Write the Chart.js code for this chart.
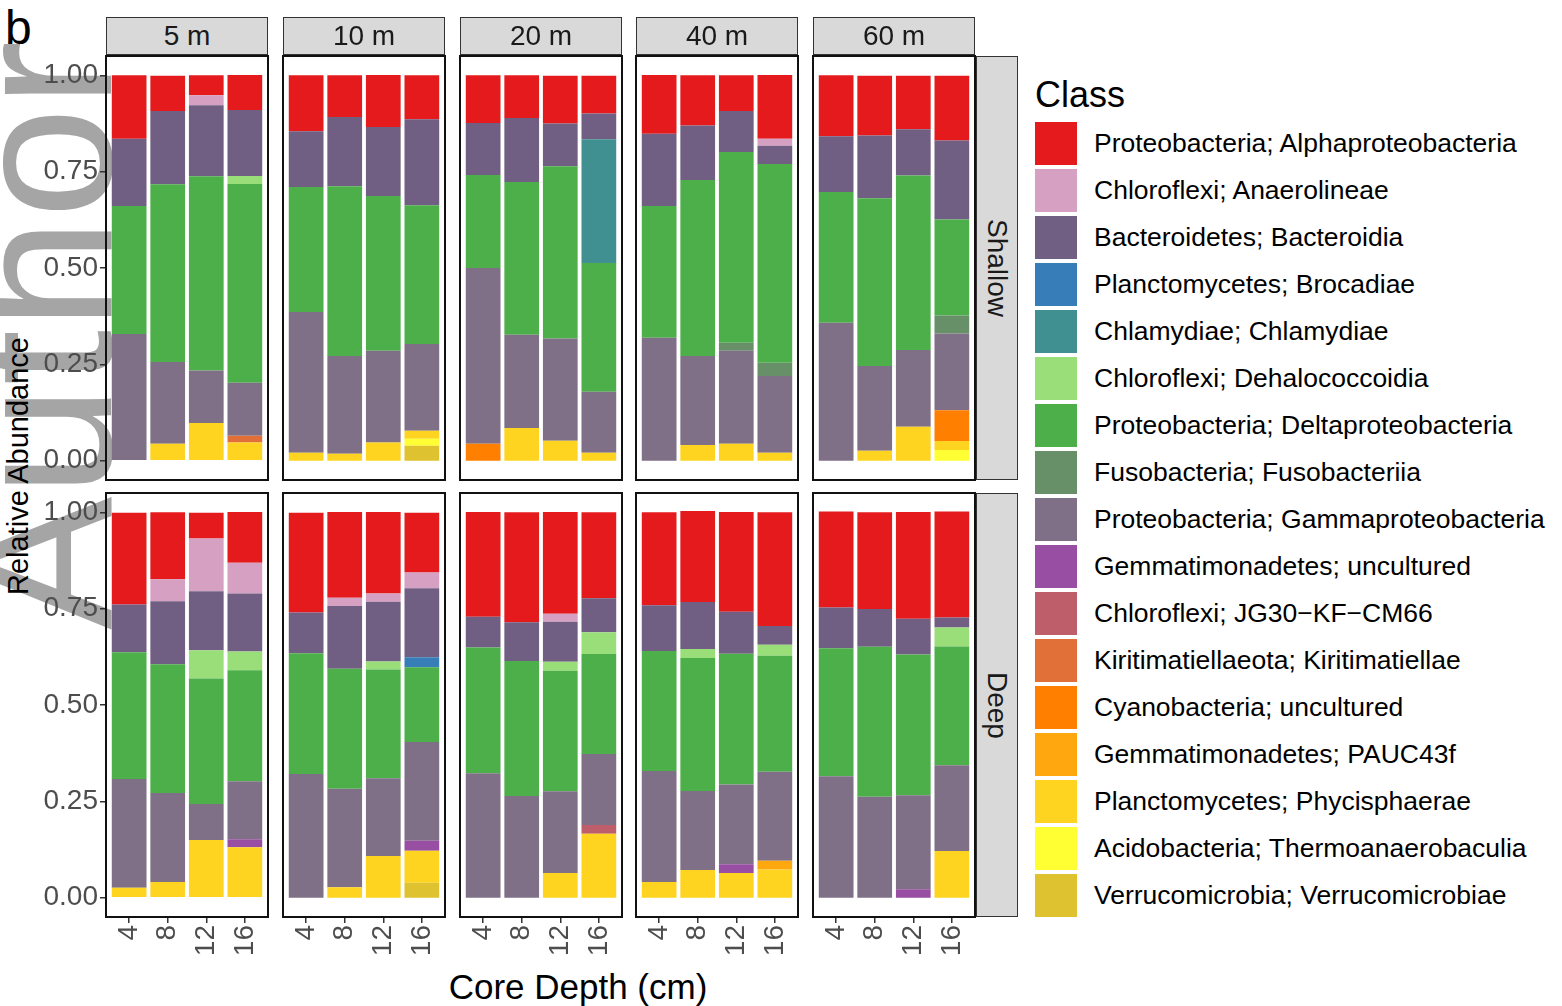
<!DOCTYPE html>
<html>
<head>
<meta charset="utf-8">
<script src="https://cdn.jsdelivr.net/npm/chart.js@4.4.0/dist/chart.umd.min.js"></script>
<style>
  body { margin: 0; background: #fff; }
  #page { position: relative; width: 1562px; height: 1006px; overflow: hidden; font-family: "Liberation Sans", Arial, sans-serif; }
  .abs { position: absolute; }
  .strip { position: absolute; background: #d9d9d9; border: 1.5px solid #333; box-sizing: border-box;
           display: flex; align-items: center; justify-content: center; font-size: 28px; color: #1a1a1a; }
  .vstrip { writing-mode: vertical-rl; }
  .key { position: absolute; left: 1035px; width: 42px; height: 43px; }
  .ltext { position: absolute; left: 1094px; font-size: 26.5px; color: #000; line-height: 30px; white-space: nowrap; }
  #wm { position: absolute; font-size: 200px; line-height: 1; color: rgba(130,130,130,0.72);
        transform-origin: 0 0; transform: rotate(-90deg); white-space: nowrap; }
</style>
</head>
<body>
<div id="page">
  <div id="wm" style="left:-58px; top:630px;">Author</div>
  <div class="abs" style="left:5px; top:0px; font-size:48px; color:#000;">b</div>
  <div class="abs" style="left:18px; top:466px; width:0; height:0;">
    <div style="position:absolute; transform: translate(-50%,-50%) rotate(-90deg); font-size:29px; white-space:nowrap; color:#000;">Relative Abundance</div>
  </div>
  <div class="abs" style="left:578px; top:987px; width:0; height:0;">
    <div style="position:absolute; transform: translate(-50%,-50%); font-size:35px; white-space:nowrap; color:#000;">Core Depth (cm)</div>
  </div>
  <div class="abs" style="left:1035px; top:74px; font-size:36px; color:#000;">Class</div>
</div>
<script>
// x categories and facets
const depths = ['4', '8', '12', '16'];
const stations = ['5 m', '10 m', '20 m', '40 m', '60 m'];
const zones = ['Shallow', 'Deep'];
const yTicks = [0, 0.25, 0.5, 0.75, 1];

const classNames = [
  'Proteobacteria; Alphaproteobacteria',
  'Chloroflexi; Anaerolineae',
  'Bacteroidetes; Bacteroidia',
  'Planctomycetes; Brocadiae',
  'Chlamydiae; Chlamydiae',
  'Chloroflexi; Dehalococcoidia',
  'Proteobacteria; Deltaproteobacteria',
  'Fusobacteria; Fusobacteriia',
  'Proteobacteria; Gammaproteobacteria',
  'Gemmatimonadetes; uncultured',
  'Chloroflexi; JG30\u2212KF\u2212CM66',
  'Kiritimatiellaeota; Kiritimatiellae',
  'Cyanobacteria; uncultured',
  'Gemmatimonadetes; PAUC43f',
  'Planctomycetes; Phycisphaerae',
  'Acidobacteria; Thermoanaerobaculia',
  'Verrucomicrobia; Verrucomicrobiae'
];
const classColors = [
  '#e41a1c', '#d6a0c3', '#715e83', '#377eb8', '#419091', '#99de79', '#4daf4a', '#678f68',
  '#7f7087', '#984ea3', '#bd5e6a', '#e07038', '#ff7f00', '#ffa70f', '#fed421', '#ffff33', '#dfc22f'
];

// values per class, 4 depths per panel:
// Shallow 5,10,20,40,60 m | Deep 5,10,20,40,60 m
const alpha = [
  .165,.092,.052,.091, .145,.108,.135,.114, .124,.111,.124,.098, .153,.130,.093,.166, .158,.155,.139,.168,
  .238,.174,.067,.132, .259,.223,.212,.155, .272,.285,.264,.223, .241,.236,.259,.295, .249,.251,.277,.275];
const anaerolineae = [
  0,0,.026,0, 0,0,0,0, 0,0,0,0, 0,0,0,.018, 0,0,0,0,
  0,.057,.137,.080, 0,.021,.021,.041, 0,0,.021,0, 0,0,0,0, 0,0,0,0];
const bacteroidia = [
  .174,.190,.184,.171, .145,.180,.179,.223, .135,.166,.111,.067, .187,.142,.106,.047, .145,.163,.120,.205,
  .124,.163,.153,.150, .106,.163,.155,.179, .080,.101,.104,.088, .119,.122,.109,.049, .106,.098,.093,.026];
const brocadiae = [
  0,0,0,0, 0,0,0,0, 0,0,0,0, 0,0,0,0, 0,0,0,0,
  0,0,0,0, 0,0,0,.026, 0,0,0,0, 0,0,0,0, 0,0,0,0];
const chlamydiae = [
  0,0,0,0, 0,0,0,0, 0,0,0,.321, 0,0,0,0, 0,0,0,0,
  0,0,0,0, 0,0,0,0, 0,0,0,0, 0,0,0,0, 0,0,0,0];
const dehalococcoidia = [
  0,0,0,.021, 0,0,0,0, 0,0,0,0, 0,0,0,0, 0,0,0,0,
  0,0,.073,.049, 0,0,.021,0, 0,0,.023,.057, 0,.023,0,.028, 0,0,0,.049];
const delta = [
  .332,.461,.504,.516, .324,.440,.402,.360, .241,.396,.447,.334, .342,.456,.495,.516, .339,.435,.453,.249,
  .329,.334,.326,.288, .313,.311,.282,.194, .326,.350,.313,.259, .311,.345,.339,.301, .332,.389,.365,.308];
const fusobacteriia = [
  0,0,0,0, 0,0,0,0, 0,0,0,0, 0,0,.021,.034, 0,0,0,.047,
  0,0,0,0, 0,0,0,0, 0,0,0,0, 0,0,0,0, 0,0,0,0];
const gamma = [
  .329,.212,.136,.137, .365,.254,.238,.225, .456,.242,.265,.158, .319,.231,.241,.199, .358,.220,.199,.199,
  .282,.231,.093,.150, .321,.256,.202,.256, .323,.264,.212,.184, .288,.205,.207,.231, .315,.262,.244,.223];
const gemmUncult = [
  0,0,0,0, 0,0,0,0, 0,0,0,0, 0,0,0,0, 0,0,0,0,
  0,0,0,.021, 0,0,0,.026, 0,0,0,0, 0,0,.023,0, 0,0,.022,0];
const jg30 = [
  0,0,0,0, 0,0,0,0, 0,0,0,0, 0,0,0,0, 0,0,0,0,
  0,0,0,0, 0,0,0,0, 0,0,0,.023, 0,0,0,0, 0,0,0,0];
const kiritimatiellae = [
  0,0,0,.018, 0,0,0,0, 0,0,0,0, 0,0,0,0, 0,0,0,0,
  0,0,0,0, 0,0,0,0, 0,0,0,0, 0,0,0,0, 0,0,0,0];
const cyanoUncult = [
  0,0,0,0, 0,0,0,0, .044,0,0,0, 0,0,0,0, 0,0,0,.080,
  0,0,0,0, 0,0,0,0, 0,0,0,0, 0,0,0,0, 0,0,0,0];
const pauc43f = [
  0,0,0,0, 0,0,0,0, 0,0,0,0, 0,0,0,0, 0,0,0,0,
  0,0,0,0, 0,0,0,0, 0,0,0,0, 0,0,0,.023, 0,0,0,0];
const phycisphaerae = [
  0,.044,.098,.047, .021,.018,.047,.021, 0,.085,.052,.021, 0,.041,.044,.021, 0,.026,.088,.023,
  .026,.041,.150,.131, 0,.027,.108,.083, 0,0,.064,.166, .041,.072,.064,.073, 0,0,0,.121];
const thermo = [
  0,0,0,0, 0,0,0,.018, 0,0,0,0, 0,0,0,0, 0,0,0,.028,
  0,0,0,0, 0,0,0,0, 0,0,0,0, 0,0,0,0, 0,0,0,0];
const verruco = [
  0,0,0,0, 0,0,0,.039, 0,0,0,0, 0,0,0,0, 0,0,0,0,
  0,0,0,0, 0,0,0,.039, 0,0,0,0, 0,0,0,0, 0,0,0,0];

const seriesValues = [alpha, anaerolineae, bacteroidia, brocadiae, chlamydiae, dehalococcoidia, delta,
  fusobacteriia, gamma, gemmUncult, jg30, kiritimatiellae, cyanoUncult, pauc43f, phycisphaerae, thermo, verruco];

Chart.defaults.font.family = '"Liberation Sans", Arial, sans-serif';
Chart.defaults.animation = false;

const page = document.getElementById('page');
const panelLeft = [106, 283, 460, 636, 813];
const panelTop = [56, 493];
const panelW = 162, panelH = 424, pad = 2;

// draws the black panel border
const framePlugin = {
  id: 'frame',
  afterDraw(chart) {
    const a = chart.chartArea, ctx = chart.ctx;
    ctx.save();
    ctx.strokeStyle = '#111';
    ctx.lineWidth = 2;
    ctx.strokeRect(a.left, a.top, a.right - a.left, a.bottom - a.top);
    ctx.restore();
  }
};

function makePanel(zi, si) {
  const p = zi * 5 + si;
  const showY = si === 0;
  const showX = zi === 1;
  const yW = showY ? 106 : 0;
  const xH = showX ? 62 : 0;

  const canvas = document.createElement('canvas');
  canvas.width = yW + panelW + 2 * pad;
  canvas.height = panelH + xH + 2 * pad;
  canvas.style.position = 'absolute';
  canvas.style.left = (panelLeft[si] - yW - pad) + 'px';
  canvas.style.top = (panelTop[zi] - pad) + 'px';
  page.appendChild(canvas);

  const datasets = classNames.map((name, k) => ({
    label: name,
    data: seriesValues[k].slice(p * 4, p * 4 + 4).map((v, i) => ({ x: i + 1, y: v })),
    backgroundColor: classColors[k],
    borderWidth: 0,
    barPercentage: 0.9,
    categoryPercentage: 1
  })).reverse();

  new Chart(canvas, {
    type: 'bar',
    data: { datasets },
    options: {
      responsive: false,
      layout: { padding: pad },
      plugins: { legend: { display: false }, tooltip: { enabled: false } },
      scales: {
        x: {
          type: 'linear', min: 0.4, max: 4.6, offset: false, stacked: true, display: showX,
          afterBuildTicks: s => { s.ticks = depths.map((d, i) => ({ value: i + 1 })); },
          afterFit: s => { s.height = xH; s.paddingLeft = 0; s.paddingRight = 0; },
          ticks: {
            callback: v => depths[v - 1], minRotation: 90, maxRotation: 90, autoSkip: false,
            color: '#4d4d4d', font: { size: 28 }, padding: 2
          },
          grid: { offset: false, drawOnChartArea: false, drawTicks: true, tickLength: 6, color: '#333', lineWidth: 1.5 },
          border: { display: false }
        },
        y: {
          min: -0.05, max: 1.05, stacked: true, display: showY,
          afterBuildTicks: s => { s.ticks = yTicks.map(v => ({ value: v })); },
          afterFit: s => { s.width = yW; s.paddingTop = 0; s.paddingBottom = 0; },
          ticks: { callback: v => v.toFixed(2), color: '#4d4d4d', font: { size: 28 }, padding: 2 },
          grid: { drawOnChartArea: false, drawTicks: true, tickLength: 6, color: '#333', lineWidth: 1.5 },
          border: { display: false }
        }
      }
    },
    plugins: [framePlugin]
  });
}

zones.forEach((z, zi) => stations.forEach((s, si) => makePanel(zi, si)));

// facet strips
stations.forEach((s, si) => {
  const d = document.createElement('div');
  d.className = 'strip';
  d.style.left = panelLeft[si] + 'px';
  d.style.top = '17px';
  d.style.width = panelW + 'px';
  d.style.height = '38px';
  d.textContent = s;
  page.appendChild(d);
});
zones.forEach((z, zi) => {
  const d = document.createElement('div');
  d.className = 'strip vstrip';
  d.style.left = '976px';
  d.style.top = panelTop[zi] + 'px';
  d.style.width = '42px';
  d.style.height = panelH + 'px';
  d.textContent = z;
  page.appendChild(d);
});

// legend
classNames.forEach((name, k) => {
  const cy = 143 + 47 * k;
  const key = document.createElement('div');
  key.className = 'key';
  key.style.top = (cy - 21.5) + 'px';
  key.style.background = classColors[k];
  page.appendChild(key);
  const t = document.createElement('div');
  t.className = 'ltext';
  t.style.top = (cy - 15) + 'px';
  t.textContent = name;
  page.appendChild(t);
});
</script>
</body>
</html>
